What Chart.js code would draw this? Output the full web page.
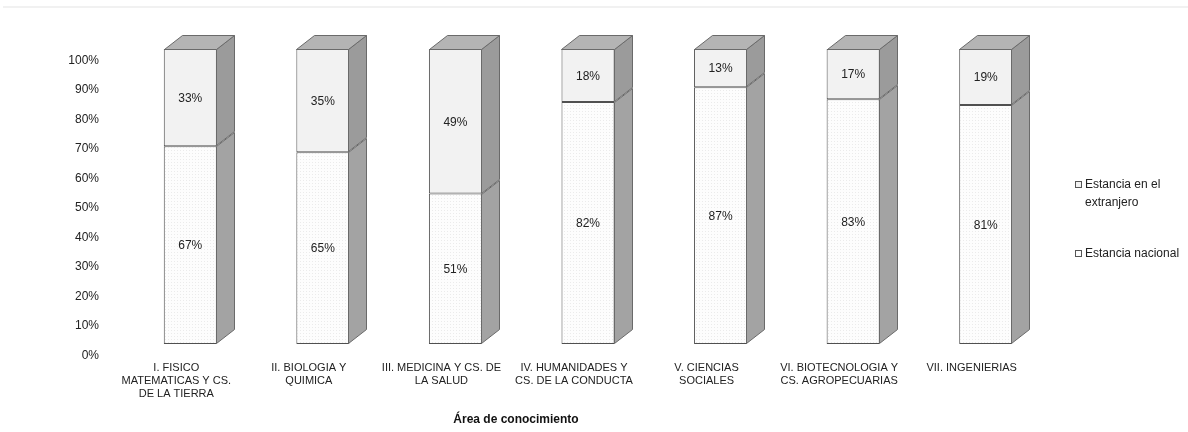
<!DOCTYPE html>
<html>
<head>
<meta charset="utf-8">
<script src="https://cdn.jsdelivr.net/npm/chart.js@4.4.1/dist/chart.umd.min.js"></script>
<style>
  html, body { margin: 0; padding: 0; background: #fff; }
  #wrap { width: 1188px; height: 432px; position: relative; }
</style>
</head>
<body>
<div id="wrap"><canvas id="chart" width="1188" height="432"></canvas></div>
<script>
// data
const categories = [
    ["I. FISICO", "MATEMATICAS Y CS.", "DE LA TIERRA"],
    ["II. BIOLOGIA Y", "QUIMICA"],
    ["III. MEDICINA Y CS. DE", "LA SALUD"],
    ["IV. HUMANIDADES Y", "CS. DE LA CONDUCTA"],
    ["V. CIENCIAS", "SOCIALES"],
    ["VI. BIOTECNOLOGIA Y", "CS. AGROPECUARIAS"],
    ["VII. INGENIERIAS"]
];
const nacional = [67, 65, 51, 82, 87, 83, 81];
const extranjero = [33, 35, 49, 18, 13, 17, 19];
const seriesNames = ["Estancia nacional", "Estancia en el extranjero"];
const axisTitle = "Área de conocimiento";

const FONT = "'Liberation Sans', Arial, sans-serif";
const dx = 18, dy = -14; // 3d depth

// dotted fill for the lower segment
function dotPattern() {
    const c = document.createElement("canvas");
    c.width = 3; c.height = 3;
    const g = c.getContext("2d");
    g.fillStyle = "#fdfdfd";
    g.fillRect(0, 0, 3, 3);
    g.fillStyle = "#ebebeb";
    g.fillRect(0, 0, 1, 1);
    return g.createPattern(c, "repeat");
}

// side and top faces of the columns
const bar3d = {
    id: "bar3d",
    afterDatasetsDraw(chart) {
        const ctx = chart.ctx;
        const metas = chart.getSortedVisibleDatasetMetas();
        ctx.save();
        ctx.lineWidth = 1;
        ctx.strokeStyle = "#6a6a6a";
        metas.forEach((meta, k) => {
            meta.data.forEach((bar) => {
                const p = bar.getProps(["x", "y", "base", "width"], true);
                const left = Math.round(p.x - p.width / 2) + 0.5;
                const right = Math.round(p.x + p.width / 2) - 0.5;
                const top = Math.round(p.y) + 0.5;
                const bottom = Math.round(p.base) - 0.5;
                ctx.beginPath();
                ctx.moveTo(right, top);
                ctx.lineTo(right + dx, top + dy);
                ctx.lineTo(right + dx, bottom + dy);
                ctx.lineTo(right, bottom);
                ctx.closePath();
                ctx.fillStyle = k === 0 ? "#a3a3a3" : "#9b9b9b";
                ctx.fill();
                ctx.stroke();
                if (k === metas.length - 1) {
                    ctx.beginPath();
                    ctx.moveTo(left, top);
                    ctx.lineTo(left + dx, top + dy);
                    ctx.lineTo(right + dx, top + dy);
                    ctx.lineTo(right, top);
                    ctx.closePath();
                    ctx.fillStyle = "#b4b4b4";
                    ctx.fill();
                    ctx.stroke();
                }
            });
        });
        ctx.restore();
    }
};

// values inside segments, legend, axis title
const labelsPlugin = {
    id: "labelsPlugin",
    beforeDraw(chart) {
        const ctx = chart.ctx;
        ctx.save();
        ctx.strokeStyle = "#f1f1f1";
        ctx.lineWidth = 2;
        ctx.beginPath();
        ctx.moveTo(3, 7);
        ctx.lineTo(1188, 7);
        ctx.stroke();
        ctx.restore();
    },
    afterDraw(chart) {
        const ctx = chart.ctx;
        ctx.save();
        ctx.fillStyle = "#222";
        ctx.font = "12px " + FONT;
        ctx.textAlign = "center";
        ctx.textBaseline = "middle";
        chart.getSortedVisibleDatasetMetas().forEach((meta) => {
            const values = chart.data.datasets[meta.index].data;
            meta.data.forEach((bar, i) => {
                const p = bar.getProps(["x", "y", "base"], true);
                ctx.fillText(values[i] + "%", p.x, (p.y + p.base) / 2 + 1);
            });
        });

        // legend (top series first)
        const items = [
            { ds: chart.data.datasets[1], y: 184 },
            { ds: chart.data.datasets[0], y: 253 }
        ];
        ctx.textAlign = "left";
        items.forEach((it) => {
            const words = it.ds.label.split(" ");
            const lines = [];
            let cur = "";
            words.forEach((w) => {
                const t = cur ? cur + " " + w : w;
                if (ctx.measureText(t).width > 100 && cur) { lines.push(cur); cur = w; }
                else cur = t;
            });
            lines.push(cur);
            ctx.fillStyle = it.ds.legendFill;
            ctx.fillRect(1075, it.y - 3, 7, 7);
            ctx.strokeStyle = "#555";
            ctx.lineWidth = 1;
            ctx.strokeRect(1075.5, it.y - 2.5, 6, 6);
            ctx.fillStyle = "#222";
            lines.forEach((ln, j) => ctx.fillText(ln, 1085, it.y + 1 + j * 18));
        });

        ctx.font = "bold 12px " + FONT;
        ctx.textAlign = "center";
        ctx.fillStyle = "#111";
        ctx.fillText(axisTitle, 516, 420);
        ctx.restore();
    }
};

const ctx = document.getElementById("chart").getContext("2d");
window.stayChart = new Chart(ctx, {
    type: "bar",
    data: {
        labels: categories,
        datasets: [{
            label: seriesNames[0],
            data: nacional,
            backgroundColor: dotPattern(),
            legendFill: "#fcfcfc",
            borderColor: "#505050",
            borderWidth: 1,
            borderSkipped: false,
        }, {
            label: seriesNames[1],
            data: extranjero,
            backgroundColor: "#f2f2f2",
            legendFill: "#f2f2f2",
            borderColor: "#505050",
            borderWidth: 1,
            borderSkipped: false,
        }],
    },
    options: {
        responsive: false,
        animation: false,
        devicePixelRatio: 1,
        layout: { padding: { left: 0, top: 49, right: 136, bottom: 0 } },
        datasets: { bar: { barPercentage: 0.4, categoryPercentage: 1 } },
        plugins: {
            legend: { display: false },
            tooltip: { enabled: false },
        },
        scales: {
            x: {
                stacked: true,
                grid: { display: false, drawTicks: false },
                border: { display: false },
                ticks: {
                    color: "#222",
                    font: { family: FONT, size: 11, lineHeight: 1.15 },
                    padding: 18,
                    labelOffset: -14,
                    maxRotation: 0,
                    autoSkip: false,
                },
                afterFit(scale) { scale.height = 88; },
            },
            y: {
                stacked: true,
                min: 0,
                max: 100,
                grid: { display: false, drawTicks: false },
                border: { display: false },
                ticks: {
                    stepSize: 10,
                    color: "#222",
                    font: { family: FONT, size: 12 },
                    padding: 25,
                    labelOffset: 11.5,
                    callback: (v) => v + "%",
                },
                afterFit(scale) { scale.width = 124; },
            },
        },
    },
    plugins: [bar3d, labelsPlugin],
});
</script>
</body>
</html>
